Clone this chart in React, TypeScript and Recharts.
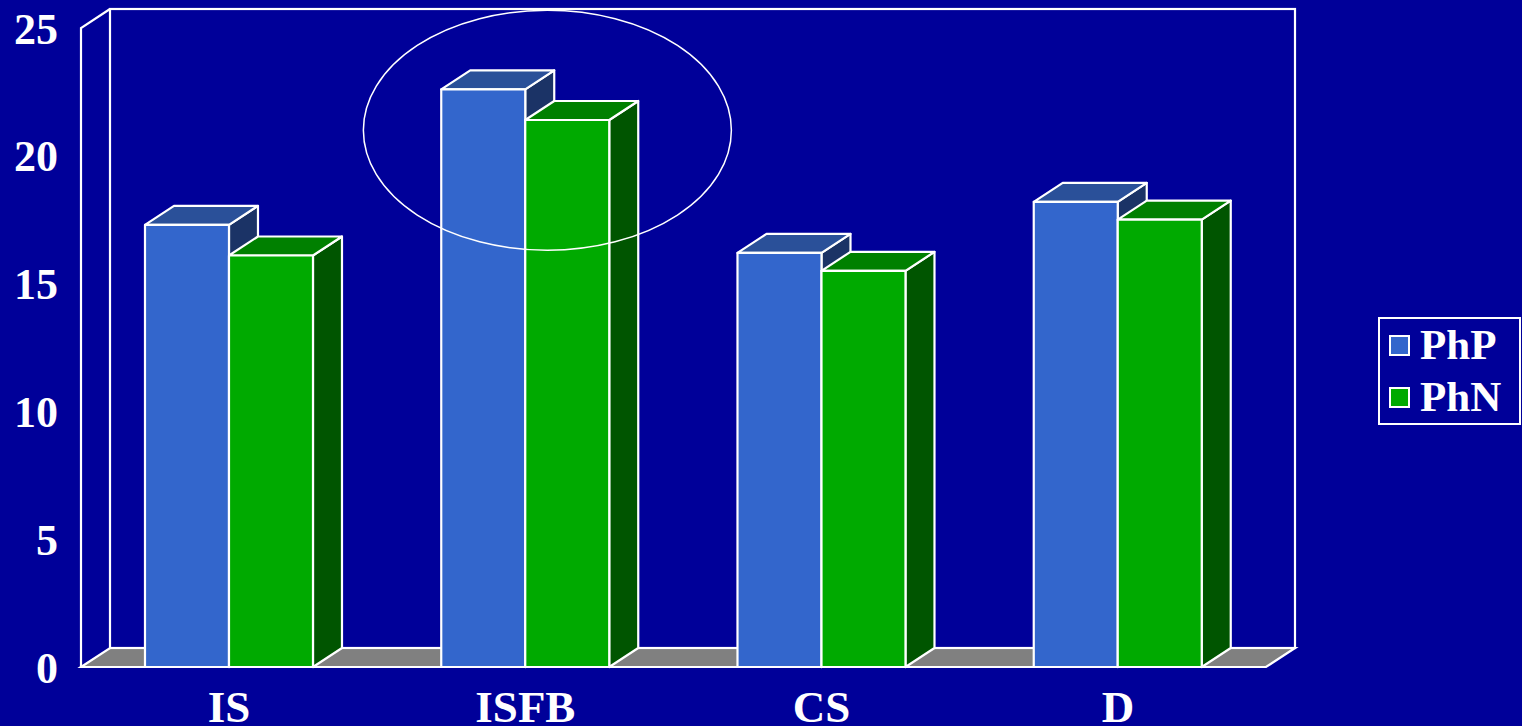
import React from "react"
import {
  BarChart, Bar, XAxis, YAxis, Legend, ReferenceArea, ReferenceDot,
} from "recharts"

const categories = ["IS", "ISFB", "CS", "D"]
const php = [17.3, 22.6, 16.2, 18.2]
const phn = [16.1, 21.4, 15.5, 17.5]
const yTicks = [0, 5, 10, 15, 20, 25]

const data = categories.map((c, i) => ({ name: c, PhP: php[i], PhN: phn[i] }))

const BG = "#000099"
const FONT = '"Times New Roman", "Liberation Serif", serif'
const DX = 29
const DY = -19

const series = [
  { key: "PhP", front: "#3366CC", top: "#2A5099", side: "#1B3366" },
  { key: "PhN", front: "#00AA00", top: "#008000", side: "#005500" },
]

function Box3D(props: any) {
  const { x, y, width: w, height: h, front, top, side } = props
  if (w == null || h == null) return null
  return (
    <g stroke="#fff" strokeWidth={2.2} strokeLinejoin="round">
      <polygon points={`${x + w},${y} ${x + w + DX},${y + DY} ${x + w + DX},${y + h + DY} ${x + w},${y + h}`} fill={side} />
      <polygon points={`${x},${y} ${x + DX},${y + DY} ${x + w + DX},${y + DY} ${x + w},${y}`} fill={top} />
      <rect x={x} y={y} width={w} height={h} fill={front} />
    </g>
  )
}

function Walls(props: any) {
  const { x, y, width: w, height: h } = props
  const b = y + h
  return (
    <g stroke="#fff" strokeWidth={2.2} fill="none">
      <polygon points={`${x},${b} ${x + w},${b} ${x + w + DX},${b + DY} ${x + DX},${b + DY}`} fill="#808080" />
      <rect x={x + DX} y={y + DY} width={w} height={h} />
      <polyline points={`${x},${b} ${x},${y} ${x + DX},${y + DY}`} />
    </g>
  )
}

function LegendBox() {
  return (
    <div style={{
      border: "2px solid #fff", padding: "0 10px 0 9px", fontFamily: FONT,
      fontWeight: "bold", fontSize: 43, color: "#fff", lineHeight: "52px",
      background: BG, width: 120, boxSizing: "content-box",
    }}>
      {series.map((s) => (
        <div key={s.key} style={{ display: "flex", alignItems: "center" }}>
          <span style={{ width: 17, height: 17, background: s.front, border: "2px solid #fff", marginRight: 10 }} />
          {s.key}
        </div>
      ))}
    </div>
  )
}

export default function App() {
  return (
    <div style={{ position: "absolute", left: 0, top: 0, width: 1522, height: 726, background: BG }}>
      <BarChart width={1522} height={726} data={data}
        margin={{ top: 28, right: 113, left: 0, bottom: 0 }}
        barCategoryGap="21.6%" barGap={0}>
        <XAxis dataKey="name" height={59} axisLine={false} tickLine={false} tickSize={0} tickMargin={23}
          tick={{ fill: "#fff", fontSize: 45, fontWeight: "bold", fontFamily: FONT }} />
        <YAxis width={81} domain={[0, 25]} ticks={yTicks} axisLine={false} tickLine={false}
          tickSize={0} tickMargin={23}
          tick={{ fill: "#fff", fontSize: 44, fontWeight: "bold", fontFamily: FONT }} />
        <ReferenceArea y1={0} y2={25} shape={(p: any) => <Walls {...p} />} />
        {series.map((s) => (
          <Bar key={s.key} dataKey={s.key} fill={s.front} isAnimationActive={false}
            shape={(p: any) => <Box3D {...p} front={s.front} top={s.top} side={s.side} />} />
        ))}
        <ReferenceDot x="ISFB" y={21} shape={(p: any) => (
          <ellipse cx={p.cx + 22} cy={p.cy} rx={184} ry={120} fill="none" stroke="#fff" strokeWidth={1.5} />
        )} />
        <Legend layout="vertical" align="right" verticalAlign="middle"
          wrapperStyle={{ position: "absolute", left: 1378, top: 317, width: "auto" }}
          content={() => <LegendBox />} />
      </BarChart>
    </div>
  )
}
